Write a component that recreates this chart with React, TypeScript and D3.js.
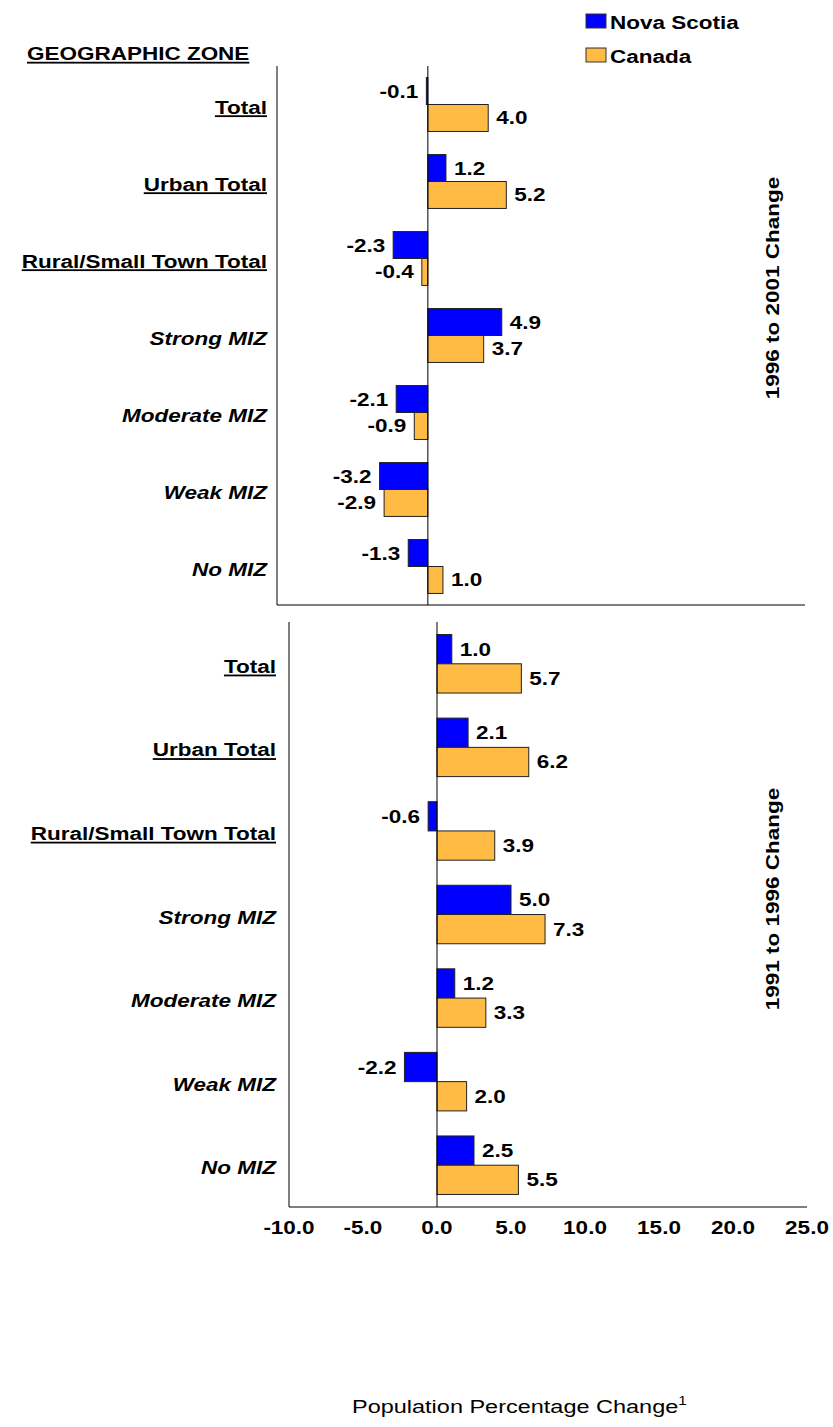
import * as d3 from "d3";
import React from "react";

const categories = [
  "Total",
  "Urban Total",
  "Rural/Small Town Total",
  "Strong MIZ",
  "Moderate MIZ",
  "Weak MIZ",
  "No MIZ",
];
const underlinedCats = ["Total", "Urban Total", "Rural/Small Town Total"];
const seriesNames = ["Nova Scotia", "Canada"];
const seriesColors = ["#0000ff", "#ffbb44"];

// 1996 to 2001
const nova9601 = [-0.1, 1.2, -2.3, 4.9, -2.1, -3.2, -1.3];
const canada9601 = [4.0, 5.2, -0.4, 3.7, -0.9, -2.9, 1.0];
// 1991 to 1996
const nova9196 = [1.0, 2.1, -0.6, 5.0, 1.2, -2.2, 2.5];
const canada9196 = [5.7, 6.2, 3.9, 7.3, 3.3, 2.0, 5.5];

const panelTitles = ["1996 to 2001 Change", "1991 to 1996 Change"];
const xTicks = [-10, -5, 0, 5, 10, 15, 20, 25];
const xDomain: [number, number] = [-10, 25];

const FONT = "'Liberation Sans', Arial, sans-serif";
const SX = 1.25; // text in the original is stretched horizontally

export default function App() {
  const ref = React.useRef<SVGSVGElement>(null);

  React.useEffect(() => {
    if (!ref.current) return;
    const svg = d3.select(ref.current);
    svg.selectAll("*").remove();

    const stext = (
      g: any,
      x: number,
      y: number,
      str: string,
      anchor: string,
      opts: { italic?: boolean; underline?: boolean; size?: number; bold?: boolean; rotate?: number } = {}
    ) => {
      const rot = opts.rotate ? ` rotate(${opts.rotate})` : "";
      const t = g
        .append("text")
        .attr("transform", `translate(${x},${y})${rot} scale(${SX},1)`)
        .attr("text-anchor", anchor)
        .attr("font-family", FONT)
        .attr("font-size", opts.size ?? 18)
        .attr("font-weight", opts.bold === false ? "normal" : "bold")
        .attr("fill", "#000")
        .text(str);
      if (opts.italic) t.attr("font-style", "italic");
      if (opts.underline) t.style("text-decoration", "underline");
      return t;
    };

    // 凡例
    const legend = svg.append("g");
    seriesNames.forEach((name, i) => {
      const ly = 14 + i * 34;
      legend
        .append("rect")
        .attr("x", 586)
        .attr("y", ly)
        .attr("width", 20)
        .attr("height", 14)
        .attr("fill", seriesColors[i])
        .attr("stroke", "#333")
        .attr("stroke-width", 1);
      stext(legend, 610, ly + 15, name, "start");
    });

    // 見出し
    stext(svg, 27, 60, "GEOGRAPHIC ZONE", "start", { underline: true });

    const panels = [
      { nova: nova9601, canada: canada9601, x0: 277, x1: 805, y0: 66, y1: 605, labelRight: 267, titleY: 288, ticks: false },
      { nova: nova9196, canada: canada9196, x0: 289, x1: 807, y0: 622, y1: 1207, labelRight: 276, titleY: 899, ticks: true },
    ];

    panels.forEach((p, pi) => {
      const g = svg.append("g");
      const x = d3.scaleLinear().domain(xDomain).range([p.x0, p.x1]);
      const y = d3
        .scaleBand()
        .domain(categories)
        .range([p.y0, p.y1])
        .paddingInner(0.3)
        .paddingOuter(0.15);
      const ySub = d3.scaleBand().domain(seriesNames).range([0, y.bandwidth()]);

      const rows = categories.map((c, i) => ({ cat: c, values: [p.nova[i], p.canada[i]] }));

      // バー
      rows.forEach((r) => {
        r.values.forEach((v, si) => {
          const by = (y(r.cat) || 0) + (ySub(seriesNames[si]) || 0);
          const bx = Math.min(x(0), x(v));
          const bw = Math.max(Math.abs(x(v) - x(0)), 1);
          g.append("rect")
            .attr("x", bx)
            .attr("y", by)
            .attr("width", bw)
            .attr("height", ySub.bandwidth())
            .attr("fill", seriesColors[si])
            .attr("stroke", "#222")
            .attr("stroke-width", 1);
          const lx = v >= 0 ? x(v) + 8 : x(v) - 8;
          stext(g, lx, by + ySub.bandwidth() / 2 + 6.5, v.toFixed(1), v >= 0 ? "start" : "end");
        });
        // カテゴリラベル
        const isU = underlinedCats.includes(r.cat);
        stext(g, p.labelRight, (y(r.cat) || 0) + y.bandwidth() / 2 + 9, r.cat, "end", {
          underline: isU,
          italic: !isU,
        });
      });

      // 軸線
      g.append("line")
        .attr("x1", x(-10)).attr("x2", x(-10))
        .attr("y1", p.y0).attr("y2", p.y1)
        .attr("stroke", "#000");
      g.append("line")
        .attr("x1", x(0)).attr("x2", x(0))
        .attr("y1", p.y0).attr("y2", p.y1)
        .attr("stroke", "#000");
      g.append("line")
        .attr("x1", x(-10)).attr("x2", x(25))
        .attr("y1", p.y1).attr("y2", p.y1)
        .attr("stroke", "#000");

      if (p.ticks) {
        xTicks.forEach((t) => stext(g, x(t), p.y1 + 27, t.toFixed(1), "middle"));
      }

      // パネルタイトル（縦書き）
      stext(g, 779, p.titleY, panelTitles[pi], "middle", { rotate: -90 });
    });

    // X軸タイトル
    const xt = svg
      .append("text")
      .attr("transform", `translate(352,1413) scale(1.27,1)`)
      .attr("font-family", FONT)
      .attr("font-size", 18.5)
      .attr("fill", "#000");
    xt.append("tspan").text("Population Percentage Change");
    xt.append("tspan").attr("font-size", 12).attr("dy", -8).text("1");
  }, []);

  return (
    <div style={{ position: "absolute", left: 0, top: 0 }}>
      <svg ref={ref} width={833} height={1427} style={{ display: "block", background: "#fff" }} />
    </div>
  );
}
